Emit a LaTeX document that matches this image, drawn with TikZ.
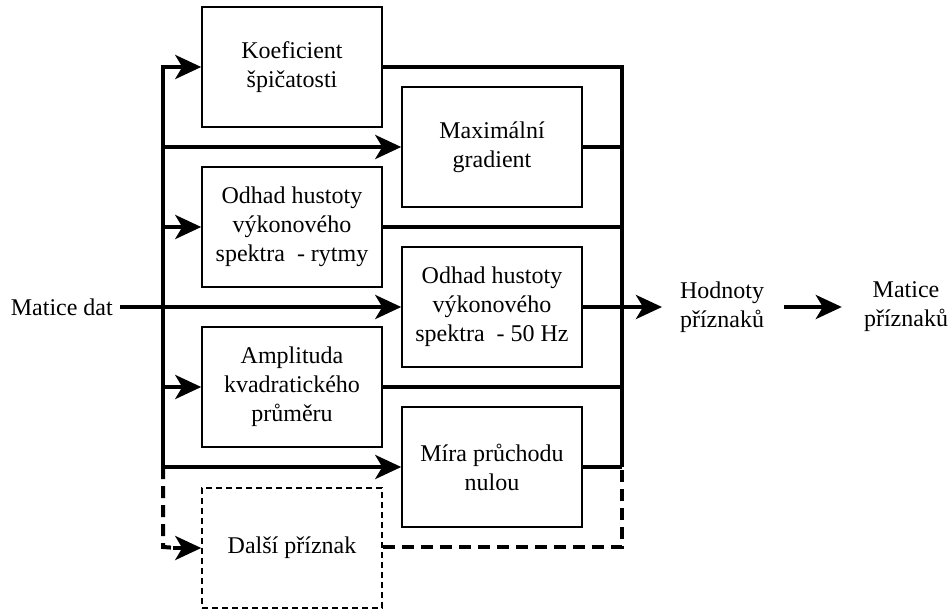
\documentclass[tikz,border=0pt]{standalone}
\usepackage{fontspec}
\setmainfont{Liberation Serif}
\usetikzlibrary{arrows.meta}
\begin{document}
\begin{tikzpicture}[x=1pt,y=-1pt,
  txt/.style={font=\fontsize{24}{29}\selectfont},
  box/.style={txt, draw, line width=1.5pt, fill=white, minimum width=180pt, minimum height=120pt, align=center, inner sep=0pt},
  dbox/.style={box, dash pattern=on 6pt off 4pt},
  lbl/.style={txt, align=center, inner sep=0pt},
  conn/.style={line width=4pt},
  arr/.style={conn, -{Stealth[length=26pt,width=24pt,inset=7pt]}},
  dconn/.style={line width=4pt, dash pattern=on 12pt off 7pt},
]
\useasboundingbox (0,0) rectangle (948,613);
\fill[white] (0,0) rectangle (948,613);

\coordinate (lt) at (163,67);
\coordinate (lb) at (163,467);
\coordinate (rt) at (622,67);
\coordinate (rb) at (622,467);
\coordinate (dl) at (163,547);
\coordinate (dr) at (622,547);
\coordinate (out) at (662,307);

\node[box] (b1) at (292,67) {Koeficient\\špičatosti};
\node[box] (b2) at (492,147) {Maximální\\gradient};
\node[box] (b3) at (292,227) {Odhad hustoty\\výkonového\\spektra\ \ - rytmy};
\node[box] (b4) at (492,307) {Odhad hustoty\\výkonového\\spektra\ \ - 50 Hz};
\node[box] (b5) at (292,387) {Amplituda\\kvadratického\\průměru};
\node[box] (b6) at (492,467) {Míra průchodu\\nulou};
\node[dbox] (b7) at (292,548) {Další příznak};

\node[lbl, anchor=east] (md) at (113,307) {Matice dat};
\node[lbl] (hp) at (722,307) {Hodnoty\\příznaků};
\node[lbl] (mp) at (906,307) {Matice\\příznaků};

% input side
\draw[arr] (lb) -- (lt) -- (b1.west);
\draw[arr] (b2.west -| lt) -- (b2.west);
\draw[arr] (b3.west -| lt) -- (b3.west);
\draw[arr] ([xshift=7pt]md.east) -- (b4.west);
\draw[arr] (b5.west -| lt) -- (b5.west);
\draw[arr] (lb) -- (b6.west);
\draw[dconn] (lb) -- (dl) -- ([xshift=-24pt]b7.west);
\draw[arr] ([xshift=-28pt]b7.west) -- (b7.west);

% output side
\draw[conn] (b1.east) -- (rt) -- (rb);
\draw[conn] (b2.east) -- (b2.east -| rt);
\draw[conn] (b3.east) -- (b3.east -| rt);
\draw[arr] (b4.east) -- (out);
\draw[conn] (b5.east) -- (b5.east -| rt);
\draw[conn] (b6.east) -- (rb);
\draw[dconn] (b7.east |- dr) -- (dr) -- (rb);

\draw[arr] ([xshift=20pt]hp.east) -- ([xshift=-22pt]mp.west);
\end{tikzpicture}
\end{document}
